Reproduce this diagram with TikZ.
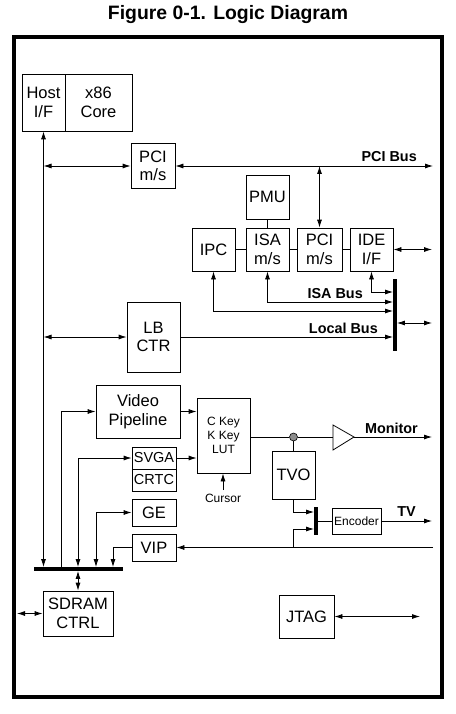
\documentclass[tikz,border=0pt]{standalone}
\usepackage{fontspec}
\setmainfont{Liberation Sans}
\usetikzlibrary{arrows.meta}
\newcommand\ldmain{\fontsize{16.5}{18.5}\selectfont}
\newcommand\ldsvga{\fontsize{14.5}{16}\selectfont}
\newcommand\ldsmall{\fontsize{12}{14}\selectfont}
\newcommand\ldlabel{\fontsize{14.4}{16}\selectfont\bfseries}
\newcommand\ldtitle{\fontsize{19.4}{21}\selectfont\bfseries}
\tikzset{
  ld diagram/.style={x=1pt, y=-1pt, font=\ldmain, line join=miter},
  ld box/.style={draw, line width=0.8pt, inner sep=0pt, align=center},
  ld bar/.style={fill=black, inner sep=0pt},
  ld line/.style={line width=0.8pt},
  ld arrow/.style={ld line, -{Latex[length=8pt,width=5pt]}},
  ld both/.style={ld line, {Latex[length=8pt,width=5pt]}-{Latex[length=8pt,width=5pt]}},
  ld label/.style={font=\ldlabel, inner sep=1pt, anchor=south east},
  ld small/.style={font=\ldsmall}
}
\begin{document}
\begin{tikzpicture}[ld diagram]
\useasboundingbox (0,0) rectangle (455,714);
\node[font=\ldtitle] (title) at (228,15) {Figure 0-1. Logic Diagram};
\draw[line width=4pt] (14,37.5) rectangle (442,697);

% processor and PCI side
\node[ld box,minimum width=43pt,minimum height=57pt] (host) at (43.5,102.5) {Host\\I/F};
\node[ld box,minimum width=67pt,minimum height=57pt] (core) at (98.5,102.5) {x86\\Core};
\node[ld box,minimum width=44pt,minimum height=45pt] (pcims) at (153,166) {PCI\\m/s};
\node[ld box,minimum width=43pt,minimum height=44pt] (pmu) at (267.5,197) {PMU};
\node[ld box,minimum width=43pt,minimum height=43pt] (ipc) at (213.5,249.5) {IPC};
\node[ld box,minimum width=43pt,minimum height=43pt] (isams) at (267.5,249.5) {ISA\\m/s};
\node[ld box,minimum width=45pt,minimum height=43pt] (pcims2) at (319.5,249.5) {PCI\\m/s};
\node[ld box,minimum width=43pt,minimum height=43pt] (ide) at (371.5,249.5) {IDE\\I/F};
\node[ld box,minimum width=53pt,minimum height=70pt] (lbctr) at (153.5,337) {LB\\CTR};
\node[ld bar,minimum width=3.5pt,minimum height=72pt] (ibar) at (395,315) {};

% video side
\node[ld box,minimum width=84pt,minimum height=53pt] (video) at (138,411.5) {Video\\Pipeline};
\node[ld box,ld small,minimum width=53pt,minimum height=75pt] (ckey) at (223.5,435.5) {C Key\\K Key\\LUT};
\node[ld box,font=\ldsvga,minimum width=44pt,minimum height=22pt] (svga) at (154,458) {SVGA};
\node[ld box,font=\ldsvga,minimum width=44pt,minimum height=22pt] (crtc) at (154,480) {CRTC};
\node[ld box,minimum width=44pt,minimum height=27pt] (ge) at (154,512.5) {GE};
\node[ld box,minimum width=44pt,minimum height=27pt] (vip) at (154,547.5) {VIP};
\node[ld small] (cursor) at (223,498) {Cursor};
\node[circle,draw,fill=black!45,line width=0.6pt,minimum size=8pt,inner sep=0pt] (dot) at (293.5,437) {};
\node[ld box,minimum width=43pt,minimum height=48pt] (tvo) at (293.5,475) {TVO};
\node[ld bar,minimum width=3.5pt,minimum height=28pt] (tvbar) at (316,521) {};
\node[ld box,ld small,minimum width=49pt,minimum height=26pt] (enc) at (356.5,521) {Encoder};
\node[ld bar,minimum width=89pt,minimum height=3.5pt] (hbar) at (78.5,569) {};
\node[ld box,minimum width=70pt,minimum height=45pt] (sdram) at (78,613.5) {SDRAM\\CTRL};
\node[ld box,minimum width=55pt,minimum height=43pt] (jtag) at (306.5,616.5) {JTAG};

\coordinate (pcibusend) at (433,166);
\coordinate (ideend) at (432,249.5);
\coordinate (barend) at (432,323);
\coordinate (bufin) at (333,437);
\coordinate (bufout) at (354,437);
\coordinate (monend) at (432,437);
\coordinate (tvend) at (432,521);
\coordinate (vipend) at (433,547.5);
\coordinate (sdramend) at (17,613.5);
\coordinate (jtagend) at (420,616.5);

% buffer
\draw[ld line] (333,425) -- (bufout) -- (333,450) -- cycle;

% upper connectors
\draw[ld both] (host.south) -- (host.south |- hbar.north);
\draw[ld both] (host.south |- pcims.west) -- (pcims.west);
\draw[ld both] (pcims.east) -- (pcibusend);
\node[ld label] (pcibus) at (418,163) {PCI Bus};
\draw[ld both] (pcims2.north |- pcibusend) -- (pcims2.north);
\draw[ld line] (pmu) -- (isams);
\draw[ld line] (ipc) -- (isams) (isams) -- (pcims2) (pcims2) -- (ide);
\draw[ld both] (ide.east) -- (ideend);
\draw[ld both] (ide.south) |- (ibar.west |- 0,292);
\draw[ld both] (isams.south) |- (ibar.west |- 0,302);
\draw[ld both] (ipc.south) |- (ibar.west |- 0,311);
\node[ld label] (isabus) at (364,300) {ISA Bus};
\draw[ld both] (ibar.east |- barend) -- (barend);
\draw[ld both] (host.south |- lbctr.west) -- (lbctr.west);
\draw[ld arrow] (lbctr.east) -- (ibar.west |- lbctr.east);
\node[ld label] (localbus) at (379,335) {Local Bus};

% video connectors
\draw[ld arrow] (hbar.north -| 61,0) |- (video.west);
\draw[ld both] (hbar.north -| sdram.north) |- (svga.west);
\draw[ld both] (hbar.north -| 96,0) |- (ge.west);
\draw[ld arrow] (vip.west) -| (hbar.north -| 113,0);
\draw[ld both] (hbar.south -| sdram.north) -- (sdram.north);
\draw[ld both] (sdram.west) -- (sdramend);
\draw[ld both] (jtag.east) -- (jtagend);
\draw[ld arrow] (video.east) -- (ckey.west |- video.east);
\draw[ld arrow] (svga.east) -- (ckey.west |- svga.east);
\draw[ld arrow] (cursor.north) -- (ckey.south -| cursor.north);
\draw[ld line] (ckey.east |- dot) -- (dot) -- (bufin);
\draw[ld line] (dot) -- (tvo.north);
\draw[ld arrow] (bufout) -- (monend);
\node[ld label] (monitor) at (419,435) {Monitor};
\draw[ld arrow] (tvo.south) |- (tvbar.west |- 0,512);
\draw[ld arrow] (vipend) -- (vip.east);
\draw[ld arrow] (tvo.south |- vip.east) |- (tvbar.west |- 0,529);
\draw[ld line] (tvbar) -- (enc);
\draw[ld arrow] (enc.east) -- (tvend);
\node[ld label] (tv) at (417,518) {TV};
\end{tikzpicture}
\end{document}
